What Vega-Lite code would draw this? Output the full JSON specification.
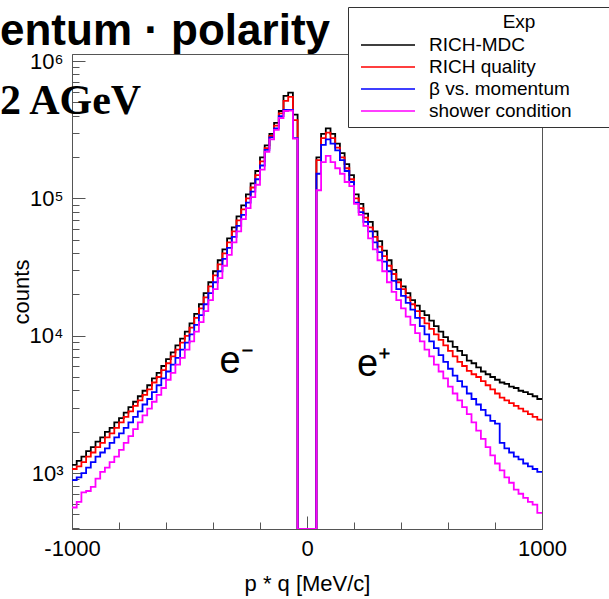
{
  "$schema": "https://vega.github.io/schema/vega-lite/v6.json",
  "width": 470,
  "height": 475,
  "autosize": {"type": "none"},
  "padding": {"left": 72, "top": 54, "right": 67, "bottom": 70},
  "background": "white",
  "title": {
    "text": "entum · polarity",
    "subtitle": "2 AGeV",
    "anchor": "start",
    "frame": "group",
    "dx": -72,
    "offset": -115,
    "font": "Liberation Sans",
    "fontSize": 44,
    "fontWeight": "bold",
    "color": "black",
    "subtitleFont": "Liberation Serif",
    "subtitleFontSize": 42,
    "subtitleFontWeight": "bold",
    "subtitleColor": "black",
    "subtitlePadding": 27
  },
  "config": {
    "font": "Liberation Sans",
    "view": {"stroke": "#555555", "strokeWidth": 1}
  },
  "layer": [
    {
      "data": {
        "values": [
          {"x": -1000, "mdc": 1148, "qual": 1072, "beta": 891, "shower": 562},
          {"x": -980, "mdc": 1230, "qual": 1122, "beta": 933, "shower": 617},
          {"x": -960, "mdc": 1318, "qual": 1202, "beta": 1000, "shower": 724},
          {"x": -940, "mdc": 1445, "qual": 1318, "beta": 1096, "shower": 741},
          {"x": -920, "mdc": 1549, "qual": 1413, "beta": 1202, "shower": 794},
          {"x": -900, "mdc": 1698, "qual": 1549, "beta": 1318, "shower": 912},
          {"x": -880, "mdc": 1820, "qual": 1660, "beta": 1413, "shower": 1023},
          {"x": -860, "mdc": 1995, "qual": 1820, "beta": 1514, "shower": 1096},
          {"x": -840, "mdc": 2138, "qual": 1950, "beta": 1660, "shower": 1202},
          {"x": -820, "mdc": 2344, "qual": 2138, "beta": 1820, "shower": 1318},
          {"x": -800, "mdc": 2512, "qual": 2344, "beta": 1950, "shower": 1479},
          {"x": -780, "mdc": 2754, "qual": 2570, "beta": 2138, "shower": 1660},
          {"x": -760, "mdc": 3020, "qual": 2818, "beta": 2344, "shower": 1862},
          {"x": -740, "mdc": 3311, "qual": 3090, "beta": 2570, "shower": 2089},
          {"x": -720, "mdc": 3631, "qual": 3388, "beta": 2818, "shower": 2344},
          {"x": -700, "mdc": 3981, "qual": 3715, "beta": 3162, "shower": 2630},
          {"x": -680, "mdc": 4365, "qual": 4074, "beta": 3467, "shower": 2951},
          {"x": -660, "mdc": 4898, "qual": 4571, "beta": 3890, "shower": 3311},
          {"x": -640, "mdc": 5370, "qual": 5012, "beta": 4365, "shower": 3715},
          {"x": -620, "mdc": 6026, "qual": 5623, "beta": 4898, "shower": 4169},
          {"x": -600, "mdc": 6761, "qual": 6310, "beta": 5495, "shower": 4786},
          {"x": -580, "mdc": 7586, "qual": 7079, "beta": 6166, "shower": 5370},
          {"x": -560, "mdc": 8511, "qual": 7943, "beta": 6918, "shower": 6166},
          {"x": -540, "mdc": 9550, "qual": 8913, "beta": 7943, "shower": 6918},
          {"x": -520, "mdc": 10720, "qual": 10000, "beta": 8913, "shower": 7943},
          {"x": -500, "mdc": 12300, "qual": 11480, "beta": 10230, "shower": 9120},
          {"x": -480, "mdc": 14450, "qual": 13490, "beta": 12020, "shower": 10720},
          {"x": -460, "mdc": 16980, "qual": 15850, "beta": 14130, "shower": 12590},
          {"x": -440, "mdc": 20420, "qual": 19050, "beta": 16980, "shower": 15140},
          {"x": -420, "mdc": 24550, "qual": 22910, "beta": 20420, "shower": 18200},
          {"x": -400, "mdc": 29510, "qual": 27540, "beta": 24550, "shower": 21880},
          {"x": -380, "mdc": 35480, "qual": 33110, "beta": 29510, "shower": 26300},
          {"x": -360, "mdc": 42660, "qual": 39810, "beta": 36310, "shower": 32360},
          {"x": -340, "mdc": 51290, "qual": 47860, "beta": 43650, "shower": 38900},
          {"x": -320, "mdc": 61660, "qual": 57540, "beta": 52480, "shower": 47860},
          {"x": -300, "mdc": 74130, "qual": 69180, "beta": 63100, "shower": 57540},
          {"x": -280, "mdc": 89130, "qual": 83180, "beta": 75860, "shower": 70790},
          {"x": -260, "mdc": 107200, "qual": 100000, "beta": 93330, "shower": 85110},
          {"x": -240, "mdc": 128800, "qual": 120200, "beta": 112200, "shower": 102300},
          {"x": -220, "mdc": 158500, "qual": 147900, "beta": 138000, "shower": 125900},
          {"x": -200, "mdc": 199500, "qual": 186200, "beta": 173800, "shower": 162200},
          {"x": -180, "mdc": 243800, "qual": 232800, "beta": 226000, "shower": 218800},
          {"x": -160, "mdc": 295100, "qual": 285100, "beta": 278600, "shower": 269200},
          {"x": -140, "mdc": 354800, "qual": 338800, "beta": 323600, "shower": 316200},
          {"x": -120, "mdc": 433500, "qual": 416900, "beta": 398100, "shower": 385500},
          {"x": -100, "mdc": 558500, "qual": 512900, "beta": 441600, "shower": 433500},
          {"x": -80, "mdc": 590200, "qual": 549500, "beta": 441600, "shower": 436500},
          {"x": -60, "mdc": 407400, "qual": 371500, "beta": 275400, "shower": 272900},
          {"x": -40, "mdc": 0, "qual": 0, "beta": 0, "shower": 0},
          {"x": -20, "mdc": 0, "qual": 0, "beta": 0, "shower": 0},
          {"x": 0, "mdc": 0, "qual": 0, "beta": 0, "shower": 0},
          {"x": 20, "mdc": 0, "qual": 0, "beta": 0, "shower": 0},
          {"x": 40, "mdc": 199500, "qual": 190500, "beta": 151400, "shower": 114800},
          {"x": 60, "mdc": 295100, "qual": 275400, "beta": 245500, "shower": 184100},
          {"x": 80, "mdc": 323600, "qual": 302000, "beta": 269200, "shower": 204200},
          {"x": 100, "mdc": 295100, "qual": 275400, "beta": 251200, "shower": 184100},
          {"x": 120, "mdc": 251200, "qual": 234400, "beta": 223900, "shower": 166000},
          {"x": 140, "mdc": 213800, "qual": 199500, "beta": 190500, "shower": 151400},
          {"x": 160, "mdc": 177800, "qual": 166000, "beta": 158500, "shower": 131800},
          {"x": 180, "mdc": 147900, "qual": 138000, "beta": 131800, "shower": 123000},
          {"x": 200, "mdc": 107200, "qual": 100000, "beta": 93330, "shower": 91200},
          {"x": 220, "mdc": 91200, "qual": 85110, "beta": 79430, "shower": 75860},
          {"x": 240, "mdc": 77620, "qual": 72440, "beta": 67610, "shower": 63100},
          {"x": 260, "mdc": 67610, "qual": 61660, "beta": 57540, "shower": 51290},
          {"x": 280, "mdc": 57540, "qual": 52480, "beta": 47860, "shower": 42660},
          {"x": 300, "mdc": 48980, "qual": 44670, "beta": 40740, "shower": 35480},
          {"x": 320, "mdc": 41690, "qual": 38020, "beta": 34670, "shower": 29510},
          {"x": 340, "mdc": 35480, "qual": 32360, "beta": 29510, "shower": 24550},
          {"x": 360, "mdc": 30200, "qual": 28180, "beta": 25120, "shower": 20890},
          {"x": 380, "mdc": 25700, "qual": 24550, "beta": 21880, "shower": 18200},
          {"x": 400, "mdc": 22910, "qual": 21880, "beta": 19500, "shower": 15850},
          {"x": 420, "mdc": 20420, "qual": 19050, "beta": 17380, "shower": 13800},
          {"x": 440, "mdc": 18200, "qual": 16980, "beta": 15490, "shower": 12020},
          {"x": 460, "mdc": 16600, "qual": 15140, "beta": 13490, "shower": 10470},
          {"x": 480, "mdc": 15140, "qual": 13490, "beta": 11750, "shower": 9120},
          {"x": 500, "mdc": 14130, "qual": 12300, "beta": 10230, "shower": 7943},
          {"x": 520, "mdc": 12880, "qual": 11220, "beta": 9120, "shower": 7079},
          {"x": 540, "mdc": 11750, "qual": 10230, "beta": 8128, "shower": 6166},
          {"x": 560, "mdc": 10720, "qual": 9333, "beta": 7244, "shower": 5495},
          {"x": 580, "mdc": 9772, "qual": 8511, "beta": 6457, "shower": 4898},
          {"x": 600, "mdc": 9120, "qual": 7762, "beta": 5754, "shower": 4266},
          {"x": 620, "mdc": 8318, "qual": 7079, "beta": 5129, "shower": 3802},
          {"x": 640, "mdc": 7762, "qual": 6457, "beta": 4677, "shower": 3388},
          {"x": 660, "mdc": 7244, "qual": 6026, "beta": 4266, "shower": 3020},
          {"x": 680, "mdc": 6607, "qual": 5559, "beta": 3802, "shower": 2692},
          {"x": 700, "mdc": 6310, "qual": 5248, "beta": 3467, "shower": 2344},
          {"x": 720, "mdc": 5888, "qual": 5012, "beta": 3162, "shower": 2042},
          {"x": 740, "mdc": 5495, "qual": 4677, "beta": 2884, "shower": 1778},
          {"x": 760, "mdc": 5248, "qual": 4365, "beta": 2630, "shower": 1549},
          {"x": 780, "mdc": 5012, "qual": 4074, "beta": 2399, "shower": 1349},
          {"x": 800, "mdc": 4786, "qual": 3802, "beta": 2291, "shower": 1175},
          {"x": 820, "mdc": 4571, "qual": 3548, "beta": 1660, "shower": 1047},
          {"x": 840, "mdc": 4467, "qual": 3388, "beta": 1514, "shower": 933},
          {"x": 860, "mdc": 4266, "qual": 3236, "beta": 1413, "shower": 851},
          {"x": 880, "mdc": 4169, "qual": 3090, "beta": 1318, "shower": 759},
          {"x": 900, "mdc": 3981, "qual": 2951, "beta": 1259, "shower": 708},
          {"x": 920, "mdc": 3890, "qual": 2818, "beta": 1175, "shower": 661},
          {"x": 940, "mdc": 3758, "qual": 2692, "beta": 1122, "shower": 617},
          {"x": 960, "mdc": 3631, "qual": 2570, "beta": 1072, "shower": 589},
          {"x": 980, "mdc": 3467, "qual": 2455, "beta": 1023, "shower": 513},
          {"x": 1000, "mdc": 3467, "qual": 2455, "beta": 1023, "shower": 513}
        ]
      },
      "transform": [
        {"fold": ["mdc", "qual", "beta", "shower"], "as": ["series", "counts"]}
      ],
      "mark": {"type": "line", "interpolate": "step-after", "strokeWidth": 1.8, "invalid": "show", "clip": true},
      "encoding": {
        "x": {
          "field": "x",
          "type": "quantitative",
          "scale": {"domain": [-1000, 1000], "nice": false, "zero": false},
          "axis": {
            "values": [-1000, -900, -800, -700, -600, -500, -400, -300, -200, -100, 0, 100, 200, 300, 400, 500, 600, 700, 800, 900, 1000],
            "labelExpr": "datum.value % 500 == 0 ? '' + datum.value : ''",
            "tickSize": {"condition": {"test": "datum.value % 500 == 0", "value": -13}, "value": -7},
            "tickColor": "#555555",
            "domainColor": "#555555",
            "labelPadding": 22,
            "labelFont": "Liberation Sans",
            "labelFontSize": 22,
            "labelColor": "black",
            "labelOverlap": false,
            "labelFlush": false,
            "grid": false,
            "title": "p * q [MeV/c]",
            "titleFont": "Liberation Sans",
            "titleFontSize": 22,
            "titleFontWeight": "normal",
            "titleColor": "black",
            "titlePadding": 8
          }
        },
        "y": {
          "field": "counts",
          "type": "quantitative",
          "scale": {"type": "log", "domain": [392, 1127000], "nice": false, "clamp": true},
          "axis": {
            "values": [400, 500, 600, 700, 800, 900, 1000, 2000, 3000, 4000, 5000, 6000, 7000, 8000, 9000, 10000, 20000, 30000, 40000, 50000, 60000, 70000, 80000, 90000, 100000, 200000, 300000, 400000, 500000, 600000, 700000, 800000, 900000, 1000000],
            "labelExpr": "datum.value == 1000 ? '10³' : datum.value == 10000 ? '10⁴' : datum.value == 100000 ? '10⁵' : datum.value == 1000000 ? '10⁶' : ''",
            "tickSize": {"condition": {"test": "datum.value == 1000 || datum.value == 10000 || datum.value == 100000 || datum.value == 1000000", "value": -13}, "value": -7},
            "tickColor": "#555555",
            "domainColor": "#555555",
            "labelPadding": 22,
            "labelFont": "Liberation Sans",
            "labelFontSize": 22,
            "labelColor": "black",
            "labelOverlap": false,
            "labelFlush": false,
            "grid": false,
            "title": "counts",
            "titleFont": "Liberation Sans",
            "titleFontSize": 22,
            "titleFontWeight": "normal",
            "titleColor": "black",
            "titlePadding": -4
          }
        },
        "color": {
          "field": "series",
          "type": "nominal",
          "scale": {"domain": ["mdc", "qual", "beta", "shower"], "range": ["#000000", "#ff0000", "#0000ff", "#ff00ff"]},
          "legend": {
            "orient": "none",
            "legendX": 276,
            "legendY": -47,
            "title": "Exp",
            "titleFont": "Liberation Sans",
            "titleFontSize": 19,
            "titleFontWeight": "normal",
            "titleColor": "black",
            "titleAnchor": "middle",
            "titlePadding": 3,
            "labelFont": "Liberation Sans",
            "labelFontSize": 19,
            "labelColor": "black",
            "labelExpr": "datum.value == 'mdc' ? 'RICH-MDC' : datum.value == 'qual' ? 'RICH quality' : datum.value == 'beta' ? 'β vs. momentum' : 'shower condition'",
            "labelLimit": 0,
            "labelOffset": 31,
            "symbolType": "M-3,0H3M32.5,0h0.01",
            "symbolSize": 324,
            "symbolOffset": 24,
            "symbolStrokeWidth": 1.5,
            "rowPadding": 2,
            "padding": 6,
            "strokeColor": "#333333",
            "fillColor": "white"
          }
        }
      }
    },
    {
      "data": {"values": [{}]},
      "mark": {"type": "text", "font": "Liberation Sans", "fontSize": 38, "align": "center", "baseline": "alphabetic", "color": "black"},
      "encoding": {
        "x": {"datum": -300, "type": "quantitative"},
        "y": {"datum": 5350, "type": "quantitative"},
        "text": {"value": "e⁻"}
      }
    },
    {
      "data": {"values": [{}]},
      "mark": {"type": "text", "font": "Liberation Sans", "fontSize": 38, "align": "center", "baseline": "alphabetic", "color": "black"},
      "encoding": {
        "x": {"datum": 285, "type": "quantitative"},
        "y": {"datum": 5130, "type": "quantitative"},
        "text": {"value": "e⁺"}
      }
    }
  ]
}
